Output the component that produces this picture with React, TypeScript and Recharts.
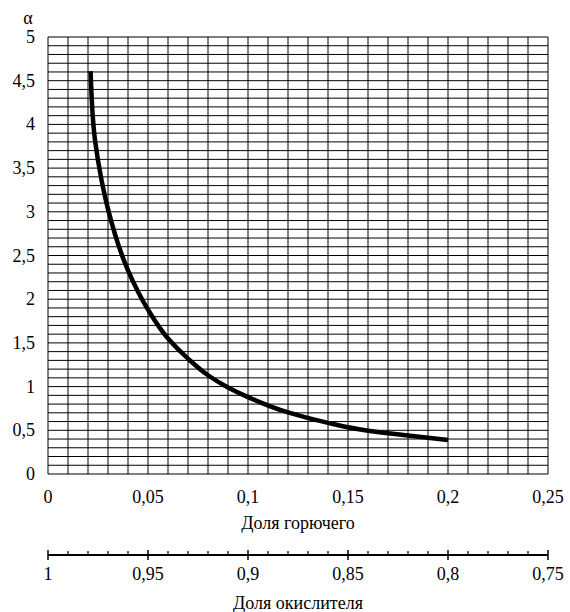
import React from "react";
import { LineChart, Line, XAxis, YAxis, CartesianGrid, Customized } from "recharts";

const FUEL_SHARE = [0.0213, 0.0235, 0.0268, 0.03, 0.04, 0.05, 0.06, 0.07, 0.08, 0.09, 0.1, 0.12, 0.14, 0.16, 0.18, 0.2];
const ALPHA = [4.61, 3.82, 3.36, 3.03, 2.33, 1.88, 1.55, 1.32, 1.13, 0.99, 0.88, 0.705, 0.585, 0.495, 0.44, 0.39];

const X_LABELS = ["0", "0,05", "0,1", "0,15", "0,2", "0,25"];
const OX_LABELS = ["1", "0,95", "0,9", "0,85", "0,8", "0,75"];
const Y_LABELS = ["0", "0,5", "1", "1,5", "2", "2,5", "3", "3,5", "4", "4,5", "5"];

// grid every 0.01 along x, every 0.1 along y
const X_GRID = Array.from({ length: 26 }, (_, i) => i / 100);
const Y_GRID = Array.from({ length: 51 }, (_, i) => i / 10);

const data = FUEL_SHARE.map((x, i) => ({ x, alpha: ALPHA[i] }));

const FONT = '"Liberation Serif", "DejaVu Serif", "Times New Roman", serif';
const W = 570;
const H = 612;

const XTick = (props: any) => {
  const { x, y, index } = props;
  if (index % 5 !== 0) return null;
  return (
    <text x={x} y={y + 23} textAnchor="middle" dominantBaseline="central" fontFamily={FONT} fontSize={18} fill="#000">
      {X_LABELS[index / 5]}
    </text>
  );
};

// lower scale: major ticks cross the line, minor ones sit above it
const OxTick = (props: any) => {
  const { x, y, index } = props;
  const major = index % 5 === 0;
  return (
    <g>
      {major ? (
        <line x1={x} x2={x} y1={y - 5} y2={y + 5} stroke="#000" strokeWidth={1.5} />
      ) : (
        <line x1={x} x2={x} y1={y - 4} y2={y} stroke="#000" strokeWidth={1.2} />
      )}
      {major && (
        <text x={x} y={y + 19} textAnchor="middle" dominantBaseline="central" fontFamily={FONT} fontSize={18} fill="#000">
          {OX_LABELS[index / 5]}
        </text>
      )}
    </g>
  );
};

const YTick = (props: any) => {
  const { x, y, index } = props;
  if (index % 5 !== 0) return null;
  return (
    <text x={x - 13} y={y} textAnchor="end" dominantBaseline="central" fontFamily={FONT} fontSize={18} fill="#000">
      {Y_LABELS[index / 5]}
    </text>
  );
};

const Titles = () => (
  <g fill="#000" fontFamily={FONT} fontSize={18}>
    <text x={28} y={18} textAnchor="middle" dominantBaseline="central">α</text>
    <text x={298} y={523} textAnchor="middle" dominantBaseline="central">Доля горючего</text>
    <text x={298} y={603} textAnchor="middle" dominantBaseline="central">Доля окислителя</text>
  </g>
);

export default function App() {
  return (
    <div style={{ position: "absolute", left: 0, top: 0, width: W, height: H, background: "#fff" }}>
      <LineChart width={W} height={H} data={data} margin={{ top: 37, right: 22, bottom: 0, left: 0 }}>
        <CartesianGrid stroke="#000" strokeWidth={1} />
        <XAxis
          dataKey="x"
          type="number"
          domain={[0, 0.25]}
          ticks={X_GRID}
          interval={0}
          height={81}
          axisLine={false}
          tickLine={false}
          tickSize={0}
          tickMargin={0}
          tick={<XTick />}
          allowDataOverflow
        />
        <XAxis
          xAxisId="ox"
          dataKey="x"
          type="number"
          domain={[0, 0.25]}
          ticks={X_GRID}
          interval={0}
          height={57}
          axisLine={{ stroke: "#000", strokeWidth: 2 }}
          tickLine={false}
          tickSize={0}
          tickMargin={0}
          tick={<OxTick />}
          allowDataOverflow
        />
        <YAxis
          type="number"
          domain={[0, 5]}
          ticks={Y_GRID}
          interval={0}
          width={48}
          axisLine={false}
          tickLine={false}
          tickSize={0}
          tickMargin={0}
          tick={<YTick />}
          allowDataOverflow
        />
        <Line
          dataKey="alpha"
          type="monotoneY"
          stroke="#000"
          strokeWidth={4.5}
          dot={false}
          activeDot={false}
          isAnimationActive={false}
        />
        <Customized component={Titles} />
      </LineChart>
    </div>
  );
}
